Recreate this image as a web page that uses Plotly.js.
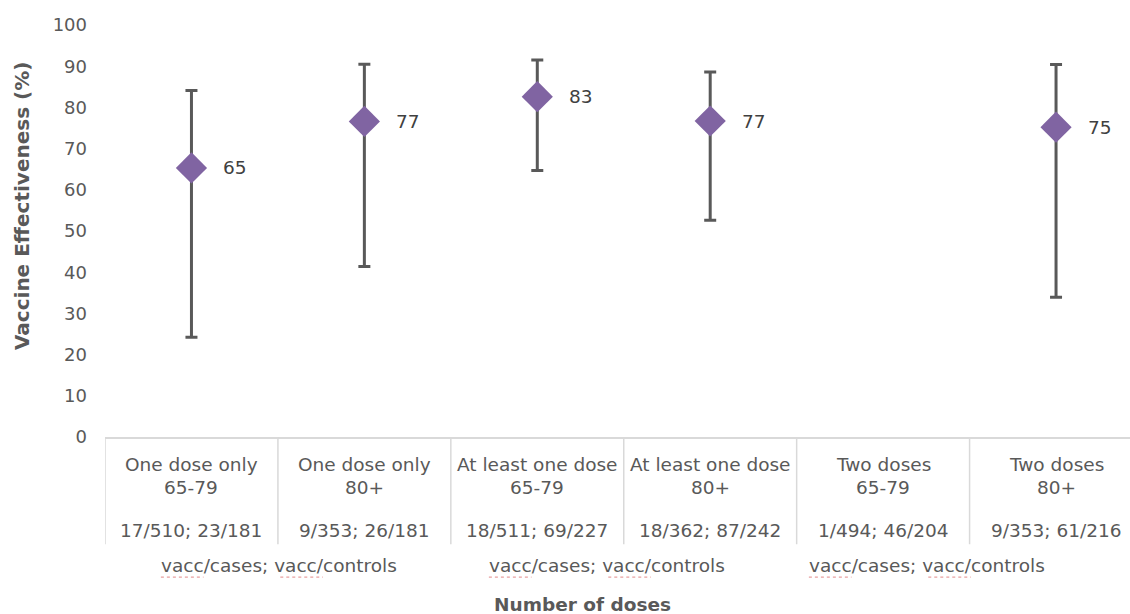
<!DOCTYPE html>
<html><head><meta charset="utf-8">
<script src="https://cdn.plot.ly/plotly-3.0.1.min.js"></script>
<style>body{margin:0;padding:0;background:#fff;}#chart{width:1130px;height:614px;}</style>
</head><body><div id="chart"></div>
<script>
var doseLabels = ["One dose only", "One dose only", "At least one dose", "At least one dose", "Two doses", "Two doses"];
var ageLabels = ["65-79", "80+", "65-79", "80+", "65-79", "80+"];
var countLabels = ["17/510; 23/181", "9/353; 26/181", "18/511; 69/227", "18/362; 87/242", "1/494; 46/204", "9/353; 61/216"];
var groupLabels = ["vacc/cases; vacc/controls", "vacc/cases; vacc/controls", "vacc/cases; vacc/controls"];
var ve = [65.3, 76.6, 82.6, 76.7, null, 75.2];
var ciUpper = [84.1, 90.5, 91.5, 88.6, null, 90.4];
var ciLower = [24.2, 41.4, 64.7, 52.6, null, 33.9];
var yTicks = [0, 10, 20, 30, 40, 50, 60, 70, 80, 90, 100];

var W = 1130, H = 614, ML = 105, MT = 24.5, MB = 176.5;
var plotH = H - MT - MB, plotW = W - ML;
function py(px) { return (H - MB - px) / plotH; }
function pxX(px) { return (px - ML) / plotW; }

var xIdx = ve.map(function(_, i){ return i; });
var plusErr = ve.map(function(v, i){ return v === null ? null : ciUpper[i] - v; });
var minusErr = ve.map(function(v, i){ return v === null ? null : v - ciLower[i]; });

var FONT = "DejaVu Sans, Verdana, sans-serif";
var GREY = "#595959";
var CAT_SIZE = 18.5;
var trace = {
  x: xIdx, y: ve, type: "scatter", mode: "markers",
  marker: {symbol: "diamond", size: 24, color: "#8064a2"},
  error_y: {type: "data", symmetric: false, array: plusErr, arrayminus: minusErr,
            color: GREY, thickness: 3, width: 6},
  hoverinfo: "skip", showlegend: false, cliponaxis: false
};

var annotations = [];
ve.forEach(function(v, i){
  if (v === null) return;
  annotations.push({x: i, y: v, xref: "x", yref: "y", text: String(Math.round(v)),
    showarrow: false, xanchor: "left", yanchor: "middle", xshift: 30,
    font: {family: FONT, size: 18.5, color: "#404040"}});
});
xIdx.forEach(function(i){
  [[doseLabels[i], 465], [ageLabels[i], 488], [countLabels[i], 531]].forEach(function(r){
    annotations.push({x: i, y: py(r[1]), xref: "x", yref: "paper", text: r[0],
      showarrow: false, xanchor: "center", yanchor: "middle",
      font: {family: FONT, size: CAT_SIZE, color: GREY}});
  });
});
var groupX = [279, 607, 927];
var shapes = [];
groupLabels.forEach(function(g, k){
  annotations.push({x: pxX(groupX[k]), y: py(566), xref: "paper", yref: "paper", text: g,
    showarrow: false, xanchor: "center", yanchor: "middle",
    font: {family: FONT, size: CAT_SIZE, color: GREY}});
  // spell-check style underline under each "vacc" (approximate DejaVu metrics, em units)
  var start = groupX[k] - 12.77 * CAT_SIZE / 2;
  [[0, 2.305], [6.454, 8.759]].forEach(function(seg){
    shapes.push({type: "line", xref: "paper", yref: "paper",
      x0: pxX(start + seg[0] * CAT_SIZE), x1: pxX(start + seg[1] * CAT_SIZE),
      y0: py(578), y1: py(578), line: {color: "#e8a0a0", width: 1.2, dash: "dot"}});
  });
});
annotations.push({x: pxX(582), y: py(605), xref: "paper", yref: "paper",
  text: "<b>Number of doses</b>", showarrow: false, xanchor: "center", yanchor: "middle",
  font: {family: FONT, size: 18.5, color: GREY}});
annotations.push({x: pxX(22), y: py(206), xref: "paper", yref: "paper",
  text: "<b>Vaccine Effectiveness (%)</b>", textangle: -90, showarrow: false,
  xanchor: "center", yanchor: "middle",
  font: {family: FONT, size: 20, color: GREY}});

for (var k = 0; k < ve.length; k++) {
  shapes.push({type: "line", xref: "x", yref: "paper", x0: k - 0.5, x1: k - 0.5,
    y0: 0, y1: py(545), line: {color: "#d9d9d9", width: 1.5}});
}

var layout = {
  width: W, height: H,
  margin: {l: ML, r: 0, t: MT, b: MB},
  paper_bgcolor: "#fff", plot_bgcolor: "#fff",
  font: {family: FONT, size: CAT_SIZE, color: GREY},
  xaxis: {range: [-0.5, (W - 191) / 173], tickvals: xIdx, showticklabels: false,
    showgrid: false, zeroline: false, showline: true, linecolor: "#d9d9d9", linewidth: 1.5,
    ticks: "", fixedrange: true},
  yaxis: {range: [0, 100], tickvals: yTicks,
    showgrid: false, zeroline: false, showline: false, ticks: "",
    ticklabelstandoff: 17,
    tickfont: {family: FONT, size: 18, color: GREY}},
  annotations: annotations, shapes: shapes
};
Plotly.newPlot("chart", [trace], layout, {displayModeBar: false, staticPlot: true});
</script></body></html>
